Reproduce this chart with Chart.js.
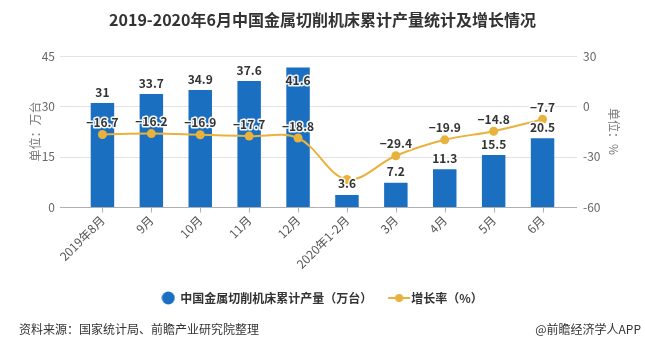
<!DOCTYPE html>
<html>
<head>
<meta charset="utf-8">
<script src="https://cdn.jsdelivr.net/npm/chart.js@4.4.0/dist/chart.umd.min.js"></script>
<style>
  html, body { margin: 0; padding: 0; background: #fff; }
  #wrap { width: 645px; height: 348px; position: relative; }
</style>
</head>
<body>
<div id="wrap"><canvas id="c" width="645" height="348"></canvas></div>
<script>
const categories = ['2019年8月', '9月', '10月', '11月', '12月', '2020年1-2月', '3月', '4月', '5月', '6月'];
const production = [31, 33.7, 34.9, 37.6, 41.6, 3.6, 7.2, 11.3, 15.5, 20.5];
const growth = [-16.7, -16.2, -16.9, -17.7, -18.8, -43.6, -29.4, -19.9, -14.8, -7.7];
const leftTicks = [0, 15, 30, 45];
const rightTicks = [-60, -30, 0, 30];
const seriesNames = ['中国金属切削机床累计产量（万台）', '增长率（%）'];
const titleText = '2019-2020年6月中国金属切削机床累计产量统计及增长情况';
const sourceText = '资料来源：国家统计局、前瞻产业研究院整理';
const brandText = '@前瞻经济学人APP';

const BLUE = '#1a6fc1';
const GOLD = '#e8b23c';
const FONT = '"Noto Sans CJK SC", "Noto Sans", sans-serif';

function fmt(v) { return String(v).replace('-', '\u2212'); }

const lineMarker = document.createElement('canvas');
lineMarker.width = 24; lineMarker.height = 12;
(function () {
  const g = lineMarker.getContext('2d');
  g.strokeStyle = GOLD; g.lineWidth = 2;
  g.beginPath(); g.moveTo(1, 6); g.lineTo(23, 6); g.stroke();
  g.fillStyle = GOLD; g.beginPath(); g.arc(12, 6, 4, 0, Math.PI * 2); g.fill();
})();
const dotMarker = document.createElement('canvas');
dotMarker.width = 14; dotMarker.height = 14;
(function () {
  const g = dotMarker.getContext('2d');
  g.fillStyle = BLUE; g.beginPath(); g.arc(7, 7, 6.5, 0, Math.PI * 2); g.fill();
})();

const decor = {
  id: 'decor',
  beforeDatasetsDraw(chart) {
    const ctx = chart.ctx;
    const y = chart.scales.y;
    const x0 = 60, x1 = 577;
    ctx.save();
    leftTicks.forEach(v => {
      const py = Math.round(y.getPixelForValue(v)) + 0.5;
      ctx.strokeStyle = v === 0 ? '#b0b0b0' : '#e3e3e3';
      ctx.lineWidth = 1;
      ctx.beginPath(); ctx.moveTo(x0, py); ctx.lineTo(x1, py); ctx.stroke();
    });
    const xs = chart.scales.x;
    const by = Math.round(y.getPixelForValue(0)) + 0.5;
    ctx.strokeStyle = '#b0b0b0';
    categories.forEach((c, i) => {
      const px = Math.round(xs.getPixelForValue(i)) + 0.5;
      ctx.beginPath(); ctx.moveTo(px, by); ctx.lineTo(px, by + 5); ctx.stroke();
    });
    ctx.fillStyle = '#777';
    ctx.font = '12px ' + FONT;
    ctx.textAlign = 'center'; ctx.textBaseline = 'middle';
    const cy = (chart.chartArea.top + chart.chartArea.bottom) / 2;
    ctx.save(); ctx.translate(35, cy); ctx.rotate(-Math.PI / 2); ctx.fillText('单位：万台', 0, 0); ctx.restore();
    ctx.save(); ctx.translate(614, cy); ctx.rotate(Math.PI / 2); ctx.fillText('单位：%', 0, 0); ctx.restore();
    ctx.restore();
  },
  afterDatasetsDraw(chart) {
    const ctx = chart.ctx;
    ctx.save();
    ctx.font = 'bold 12px ' + FONT;
    ctx.textAlign = 'center'; ctx.textBaseline = 'middle';
    ctx.lineJoin = 'round';
    const barMeta = chart.getDatasetMeta(0);
    barMeta.data.forEach((el, i) => {
      let ty = el.y - 11;
      if (i === 4) ty = el.y + 13;
      ctx.strokeStyle = 'rgba(255,255,255,0.9)'; ctx.lineWidth = 3;
      ctx.strokeText(fmt(production[i]), el.x, ty);
      ctx.fillStyle = '#333';
      ctx.fillText(fmt(production[i]), el.x, ty);
    });
    const lineMeta = chart.getDatasetMeta(1);
    lineMeta.data.forEach((el, i) => {
      if (i === 5) return;
      const ty = el.y - 12;
      ctx.strokeStyle = 'rgba(255,255,255,0.95)'; ctx.lineWidth = 3;
      ctx.strokeText(fmt(growth[i]), el.x, ty);
      ctx.fillStyle = '#333';
      ctx.fillText(fmt(growth[i]), el.x, ty);
    });
    ctx.restore();
  },
  afterDraw(chart) {
    const ctx = chart.ctx;
    ctx.save();
    ctx.fillStyle = '#333';
    ctx.font = '12px ' + FONT;
    ctx.textBaseline = 'middle';
    ctx.textAlign = 'left';
    ctx.fillText(sourceText, 19, 329);
    ctx.textAlign = 'right';
    ctx.fillText(brandText, 641, 329);
    ctx.restore();
  }
};

new Chart(document.getElementById('c'), {
  data: {
    labels: categories,
    datasets: [
      {
        type: 'bar',
        label: seriesNames[0],
        data: production,
        backgroundColor: BLUE,
        yAxisID: 'y',
        barPercentage: 0.48,
        categoryPercentage: 1,
        order: 2
      },
      {
        type: 'line',
        label: seriesNames[1],
        data: growth,
        borderColor: GOLD,
        backgroundColor: GOLD,
        borderWidth: 2,
        pointRadius: 4.5,
        pointBackgroundColor: GOLD,
        pointBorderWidth: 0,
        tension: 0.35,
        yAxisID: 'y1',
        order: 1
      }
    ]
  },
  options: {
    responsive: false,
    animation: false,
    devicePixelRatio: 1,
    layout: { padding: { left: 0, right: 0, top: 0, bottom: 34 } },
    plugins: {
      title: {
        display: true,
        text: titleText,
        color: '#333',
        font: { family: FONT, size: 16, weight: 'bold' },
        padding: { top: 10, bottom: 27 }
      },
      legend: {
        position: 'bottom',
        labels: {
          color: '#333',
          font: { family: FONT, size: 12, weight: 'bold' },
          usePointStyle: true,
          padding: 10,
          generateLabels(chart) {
            return chart.data.datasets.map((ds, i) => ({
              text: ds.label + (i === 0 ? '    ' : ''),
              fillStyle: i === 0 ? BLUE : GOLD,
              strokeStyle: i === 0 ? BLUE : GOLD,
              lineWidth: 0,
              pointStyle: i === 0 ? dotMarker : lineMarker,
              datasetIndex: i,
              hidden: false,
              fontColor: '#333'
            }));
          }
        }
      },
      tooltip: { enabled: false }
    },
    scales: {
      x: {
        type: 'category',
        offset: true,
        grid: { display: false, drawTicks: false },
        border: { display: false },
        ticks: {
          color: '#555',
          font: { family: FONT, size: 12 },
          maxRotation: 45,
          minRotation: 45,
          padding: 6,
          autoSkip: false
        },
        afterFit(s) { s.height = 75; }
      },
      y: {
        position: 'left',
        min: 0, max: 45,
        afterBuildTicks(s) { s.ticks = leftTicks.map(v => ({ value: v })); },
        grid: { display: false, drawTicks: false },
        border: { display: false },
        ticks: { color: '#666', font: { family: FONT, size: 12 }, padding: 23 },
        afterFit(s) { s.width = 78; }
      },
      y1: {
        position: 'right',
        min: -60, max: 30,
        afterBuildTicks(s) { s.ticks = rightTicks.map(v => ({ value: v })); },
        grid: { display: false, drawTicks: false },
        border: { display: false },
        ticks: { color: '#666', font: { family: FONT, size: 12 }, padding: 16 },
        afterFit(s) { s.width = 78; }
      }
    }
  },
  plugins: [decor]
});
</script>
</body>
</html>
